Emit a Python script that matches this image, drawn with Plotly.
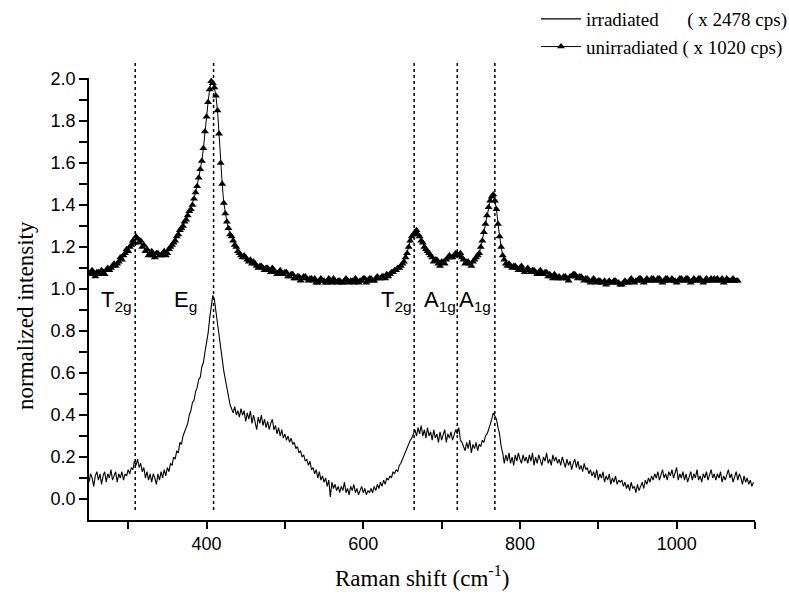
import plotly.graph_objects as go

# ---------------- data ----------------
irr_x_start, irr_step = 250, 2
irradiated = [
    0.08, 0.12, 0.10, 0.06, 0.11, 0.13, 0.09, 0.12, 0.07, 0.11, 0.13, 0.08, 0.12, 0.10, 0.14, 0.09, 0.11, 0.13, 0.08, 0.12,  # 250-288
    0.10, 0.13, 0.09, 0.12, 0.11, 0.14, 0.12, 0.15, 0.14, 0.18, 0.16, 0.19, 0.15, 0.17, 0.13, 0.15, 0.10, 0.13, 0.09, 0.12,  # 290-328
    0.08, 0.12, 0.10, 0.07, 0.12, 0.09, 0.13, 0.10, 0.14, 0.11, 0.15, 0.13, 0.17, 0.16, 0.20, 0.19, 0.23, 0.22, 0.27, 0.26,  # 330-368
    0.30, 0.32, 0.33, 0.36, 0.40, 0.42, 0.46, 0.47, 0.51, 0.53, 0.57, 0.58, 0.63, 0.65, 0.70, 0.74, 0.79, 0.86, 0.91, 0.97,  # 370-408
    0.95, 0.89, 0.84, 0.77, 0.72, 0.66, 0.61, 0.57, 0.53, 0.49, 0.45, 0.43, 0.41, 0.44, 0.40, 0.42, 0.39, 0.43, 0.40, 0.42,  # 410-448
    0.37, 0.41, 0.38, 0.42, 0.36, 0.40, 0.37, 0.33, 0.39, 0.36, 0.40, 0.35, 0.38, 0.34, 0.37, 0.33, 0.36, 0.38, 0.33, 0.35,  # 450-488
    0.31, 0.34, 0.30, 0.33, 0.29, 0.31, 0.28, 0.30, 0.27, 0.29, 0.26, 0.27, 0.24, 0.25, 0.22, 0.23, 0.20, 0.21, 0.18, 0.19,  # 490-528
    0.16, 0.18, 0.14, 0.15, 0.12, 0.14, 0.10, 0.13, 0.09, 0.11, 0.08, 0.10, 0.06, 0.09, 0.01, 0.08, 0.05, 0.07, 0.04, 0.06,  # 530-568
    0.03, 0.06, 0.04, 0.08, 0.03, 0.05, 0.02, 0.06, 0.04, 0.07, 0.03, 0.05, 0.02, 0.04, 0.06, 0.03, 0.05, 0.02, 0.04, 0.03,  # 570-608
    0.05, 0.03, 0.06, 0.04, 0.07, 0.05, 0.08, 0.06, 0.09, 0.07, 0.10, 0.09, 0.11, 0.10, 0.13, 0.12, 0.14, 0.13, 0.16, 0.17,  # 610-648
    0.19, 0.21, 0.22, 0.24, 0.26, 0.28, 0.29, 0.31, 0.33, 0.30, 0.34, 0.31, 0.35, 0.30, 0.33, 0.29, 0.34, 0.30, 0.32, 0.28,  # 650-688
    0.33, 0.29, 0.31, 0.27, 0.32, 0.28, 0.30, 0.33, 0.27, 0.31, 0.29, 0.32, 0.28, 0.30, 0.33, 0.31, 0.34, 0.28, 0.27, 0.25,  # 690-728
    0.23, 0.27, 0.24, 0.28, 0.22, 0.26, 0.24, 0.27, 0.23, 0.26, 0.25, 0.28, 0.27, 0.30, 0.31, 0.33, 0.35, 0.38, 0.41, 0.39,  # 730-768
    0.38, 0.34, 0.31, 0.25, 0.22, 0.17, 0.21, 0.18, 0.22, 0.17, 0.20, 0.16, 0.21, 0.18, 0.22, 0.19, 0.17, 0.21, 0.18, 0.20,  # 770-808
    0.17, 0.21, 0.18, 0.22, 0.16, 0.20, 0.17, 0.21, 0.19, 0.16, 0.20, 0.18, 0.22, 0.17, 0.19, 0.16, 0.21, 0.18, 0.20, 0.17,  # 810-848
    0.19, 0.16, 0.20, 0.17, 0.15, 0.19, 0.16, 0.18, 0.14, 0.17, 0.19, 0.15, 0.18, 0.14, 0.16, 0.13, 0.17, 0.14, 0.15, 0.12,  # 850-888
    0.14, 0.11, 0.13, 0.10, 0.14, 0.09, 0.12, 0.10, 0.13, 0.08, 0.11, 0.09, 0.12, 0.07, 0.10, 0.08, 0.11, 0.07, 0.09, 0.08,  # 890-928
    0.09, 0.06, 0.08, 0.05, 0.07, 0.04, 0.08, 0.05, 0.06, 0.03, 0.07, 0.04, 0.06, 0.08, 0.05, 0.09, 0.07, 0.10, 0.08, 0.11,  # 930-968
    0.09, 0.12, 0.10, 0.13, 0.09, 0.11, 0.14, 0.10, 0.12, 0.09, 0.13, 0.11, 0.14, 0.10, 0.12, 0.15, 0.09, 0.12, 0.10, 0.13,  # 970-1008
    0.09, 0.12, 0.08, 0.11, 0.13, 0.09, 0.12, 0.10, 0.14, 0.09, 0.11, 0.08, 0.12, 0.10, 0.13, 0.09, 0.11, 0.14, 0.10, 0.12,  # 1010-1048
    0.09, 0.12, 0.10, 0.13, 0.08, 0.11, 0.09, 0.12, 0.14, 0.10, 0.12, 0.08, 0.11, 0.13, 0.09, 0.12, 0.10, 0.07, 0.11, 0.08,  # 1050-1088
    0.10, 0.07, 0.09, 0.06, 0.08,                                                                                              # 1090-1098
]

unirr_x_start, unirr_step = 250, 2
unirradiated = [
    1.07, 1.08, 1.09, 1.07, 1.06, 1.08, 1.08, 1.07, 1.09, 1.08, 1.07, 1.09, 1.10, 1.09, 1.10, 1.11, 1.12, 1.11, 1.12, 1.13,  # 250-288
    1.15, 1.14, 1.16, 1.17, 1.19, 1.18, 1.20, 1.21, 1.23, 1.22, 1.25, 1.24, 1.22, 1.23, 1.20, 1.21, 1.18, 1.19, 1.16, 1.17,  # 290-328
    1.18, 1.16, 1.15, 1.17, 1.17, 1.16, 1.16, 1.17, 1.18, 1.16, 1.17, 1.19, 1.20, 1.21, 1.22, 1.23, 1.25, 1.26, 1.28, 1.29,  # 330-368
    1.30, 1.32, 1.33, 1.35, 1.37, 1.38, 1.40, 1.43, 1.46, 1.49, 1.53, 1.57, 1.61, 1.67, 1.75, 1.82, 1.89, 1.95, 1.99, 1.98,  # 370-408
    1.96, 1.92, 1.85, 1.74, 1.60, 1.50, 1.41, 1.36, 1.32, 1.29, 1.26, 1.25, 1.23, 1.21, 1.20, 1.18, 1.17, 1.16, 1.15, 1.16,  # 410-448
    1.15, 1.14, 1.13, 1.14, 1.12, 1.13, 1.12, 1.11, 1.10, 1.11, 1.11, 1.10, 1.09, 1.10, 1.10, 1.09, 1.08, 1.10, 1.09, 1.08,  # 450-488
    1.07, 1.08, 1.09, 1.07, 1.07, 1.08, 1.08, 1.06, 1.06, 1.07, 1.07, 1.05, 1.05, 1.06, 1.06, 1.04, 1.05, 1.06, 1.06, 1.05,  # 490-528
    1.04, 1.05, 1.05, 1.04, 1.05, 1.03, 1.03, 1.04, 1.05, 1.04, 1.04, 1.03, 1.03, 1.05, 1.04, 1.03, 1.05, 1.04, 1.03, 1.04,  # 530-568
    1.04, 1.03, 1.03, 1.04, 1.05, 1.04, 1.03, 1.04, 1.04, 1.03, 1.05, 1.04, 1.03, 1.04, 1.04, 1.05, 1.05, 1.03, 1.04, 1.05,  # 570-608
    1.05, 1.04, 1.04, 1.05, 1.06, 1.05, 1.05, 1.06, 1.06, 1.05, 1.07, 1.06, 1.07, 1.08, 1.08, 1.09, 1.09, 1.10, 1.10, 1.11,  # 610-648
    1.12, 1.13, 1.15, 1.17, 1.20, 1.23, 1.25, 1.26, 1.27, 1.28, 1.26, 1.25, 1.23, 1.22, 1.20, 1.19, 1.18, 1.17, 1.16, 1.15,  # 650-688
    1.13, 1.14, 1.14, 1.12, 1.11, 1.13, 1.13, 1.12, 1.14, 1.15, 1.16, 1.15, 1.15, 1.16, 1.17, 1.16, 1.16, 1.17, 1.15, 1.14,  # 690-728
    1.12, 1.13, 1.13, 1.12, 1.11, 1.13, 1.14, 1.15, 1.16, 1.17, 1.20, 1.23, 1.27, 1.31, 1.35, 1.39, 1.42, 1.44, 1.45, 1.42,  # 730-768
    1.38, 1.31, 1.25, 1.20, 1.16, 1.14, 1.12, 1.11, 1.12, 1.11, 1.10, 1.11, 1.11, 1.10, 1.09, 1.10, 1.11, 1.09, 1.08, 1.09,  # 770-808
    1.10, 1.09, 1.08, 1.09, 1.09, 1.08, 1.07, 1.08, 1.09, 1.07, 1.07, 1.08, 1.08, 1.06, 1.07, 1.06, 1.05, 1.07, 1.06, 1.05,  # 810-848
    1.06, 1.05, 1.05, 1.06, 1.06, 1.05, 1.04, 1.06, 1.06, 1.07, 1.07, 1.06, 1.05, 1.06, 1.06, 1.05, 1.04, 1.05, 1.05, 1.04,  # 850-888
    1.03, 1.04, 1.05, 1.04, 1.03, 1.04, 1.04, 1.03, 1.03, 1.04, 1.02, 1.03, 1.04, 1.03, 1.03, 1.04, 1.04, 1.03, 1.03, 1.02,  # 890-928
    1.02, 1.03, 1.04, 1.03, 1.03, 1.04, 1.05, 1.04, 1.03, 1.04, 1.04, 1.05, 1.05, 1.04, 1.03, 1.04, 1.05, 1.04, 1.04, 1.05,  # 930-968
    1.05, 1.04, 1.04, 1.05, 1.05, 1.04, 1.03, 1.04, 1.05, 1.05, 1.04, 1.04, 1.05, 1.04, 1.04, 1.03, 1.04, 1.05, 1.05, 1.04,  # 970-1008
    1.04, 1.05, 1.05, 1.04, 1.03, 1.04, 1.05, 1.04, 1.04, 1.05, 1.05, 1.04, 1.03, 1.04, 1.05, 1.04, 1.04, 1.05, 1.04, 1.05,  # 1010-1048
    1.04, 1.05, 1.04, 1.04, 1.05, 1.03, 1.04, 1.05, 1.04, 1.04, 1.04, 1.05, 1.04, 1.04, 1.04,                                # 1050-1078
]

irr_x = [irr_x_start + irr_step * i for i in range(len(irradiated))]
unirr_x = [unirr_x_start + unirr_step * i for i in range(len(unirradiated))]

peak_positions = [309, 409, 665, 720, 768]
peak_labels = ["T<sub>2g</sub>", "E<sub>g</sub>", "T<sub>2g</sub>", "A<sub>1g</sub>", "A<sub>1g</sub>"]
label_x = [263, 356, 620, 675, 720]

x_tickvals = [300, 400, 500, 600, 700, 800, 900, 1000, 1100]
x_ticktext = ["", "400", "", "600", "", "800", "", "1000", ""]
y_tickvals = [round(0.1 * i, 1) for i in range(21)]
y_ticktext = [f"{v:.1f}" if i % 2 == 0 else "" for i, v in enumerate(y_tickvals)]

NB = "\u00a0"
name_irr = "irradiated" + NB * 6 + "(" + NB + "x 2478 cps)"
name_unirr = "unirradiated" + NB + "(" + NB + "x 1020 cps)"

# ---------------- layout geometry ----------------
L, R, T, B = 89, 34, 78, 77
W, H = 789, 597
pw, ph = W - L - R, H - T - B

# ---------------- figure ----------------
fig = go.Figure()
fig.add_trace(go.Scatter(
    x=irr_x, y=irradiated, mode="lines", name=name_irr,
    line=dict(color="black", width=1.1),
))
fig.add_trace(go.Scatter(
    x=unirr_x, y=unirradiated, mode="lines+markers", name=name_unirr,
    line=dict(color="black", width=1),
    marker=dict(symbol="triangle-up", size=7, color="black"),
))

for xp in peak_positions:
    fig.add_shape(type="line", xref="x", yref="paper",
                  x0=xp, x1=xp, y0=(H - B - 510) / ph, y1=(H - B - 60) / ph,
                  line=dict(color="black", width=1.5, dash="dot"))

for lx, lt in zip(label_x, peak_labels):
    fig.add_annotation(x=lx, y=0.945, xref="x", yref="y", text=lt,
                       showarrow=False, xanchor="left", yanchor="middle",
                       font=dict(family="Liberation Sans, Arial", size=22, color="black"))

# axis titles as annotations for exact placement
fig.add_annotation(x=(25 - L) / pw, y=(H - B - 316) / ph, xref="paper", yref="paper",
                   text="normalized intensity", showarrow=False, textangle=-90,
                   xanchor="center", yanchor="middle",
                   font=dict(family="Liberation Serif, Times New Roman", size=23, color="black"))
fig.add_annotation(x=0.5, y=(H - B - 576) / ph, xref="paper", yref="paper",
                   text="Raman shift (cm<sup>-1</sup>)", showarrow=False,
                   xanchor="center", yanchor="middle",
                   font=dict(family="Liberation Serif, Times New Roman", size=23, color="black"))

axis_common = dict(showline=True, linecolor="black", linewidth=1.5, mirror=False,
                   showgrid=False, zeroline=False, ticks="outside", tickcolor="black",
                   tickwidth=1.5,
                   tickfont=dict(family="Liberation Sans, Arial", size=18, color="black"))

fig.update_xaxes(range=[250, 1100], tickmode="array", tickvals=x_tickvals,
                 ticktext=x_ticktext, ticklen=7, **axis_common)
fig.update_yaxes(range=[-0.1, 2.005], tickmode="array", tickvals=y_tickvals,
                 ticktext=y_ticktext, ticklen=8, **axis_common)

fig.update_layout(
    width=W, height=H,
    margin=dict(l=L, r=R, t=T, b=B, autoexpand=False),
    plot_bgcolor="white", paper_bgcolor="white",
    showlegend=True,
    legend=dict(xref="container", yref="container",
                x=536 / W, y=1.013, xanchor="left", yanchor="top",
                bgcolor="rgba(0,0,0,0)", borderwidth=0,
                font=dict(family="Liberation Serif, Times New Roman", size=19, color="black"),
                tracegroupgap=0, itemwidth=40),
)

fig.write_html("out.html")
